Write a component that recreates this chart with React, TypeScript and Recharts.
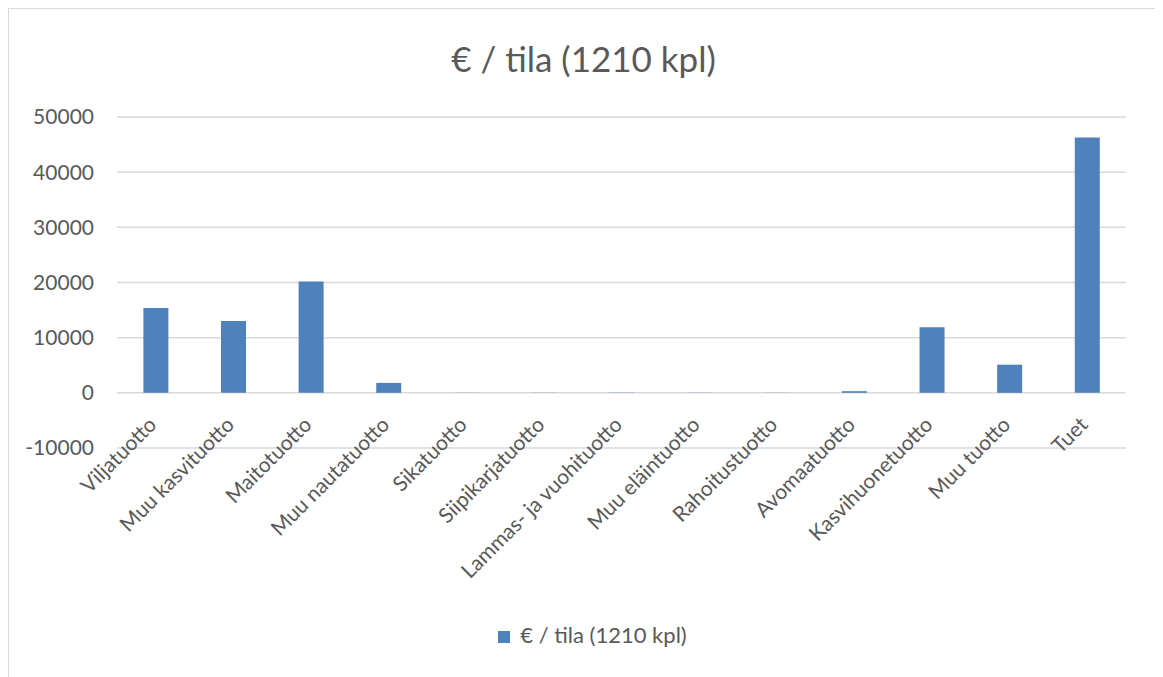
import React from 'react'
import { BarChart, Bar, XAxis, YAxis, CartesianGrid, Legend } from 'recharts'

const categories = [
  'Viljatuotto',
  'Muu kasvituotto',
  'Maitotuotto',
  'Muu nautatuotto',
  'Sikatuotto',
  'Siipikarjatuotto',
  'Lammas- ja vuohituotto',
  'Muu eläintuotto',
  'Rahoitustuotto',
  'Avomaatuotto',
  'Kasvihuonetuotto',
  'Muu tuotto',
  'Tuet',
]
const perFarm = [15400, 13000, 20200, 1800, 20, 20, 40, 30, 20, 300, 11900, 5100, 46300]
const yTicks = [-10000, 0, 10000, 20000, 30000, 40000, 50000]

const seriesName = '€ / tila (1210 kpl)'
const data = categories.map((name, i) => ({ name, value: perFarm[i] }))

const FONT = 'Lato, "Open Sans", sans-serif'
const GREY = '#595959'

function CategoryTick(props: any) {
  const { x, y, payload } = props
  // labels sit under the zero line, not the bottom of the plot
  const ax = x + 2
  const ay = y - 30
  return (
    <text
      x={ax}
      y={ay}
      transform={`rotate(-45 ${ax} ${ay})`}
      textAnchor="end"
      fill={GREY}
      fontSize={21}
      fontFamily={FONT}
    >
      {payload.value}
    </text>
  )
}

export default function App() {
  return (
    <div
      style={{
        position: 'relative',
        width: 1151,
        height: 680,
        border: '1px solid #d9d9d9',
        boxSizing: 'border-box',
        fontFamily: FONT,
        background: '#fff',
      }}
    >
      <div
        style={{
          position: 'absolute',
          top: 28,
          left: 0,
          width: '100%',
          textAlign: 'center',
          fontSize: 35,
          color: GREY,
        }}
      >
        {seriesName}
      </div>
      <BarChart
        width={1149}
        height={678}
        data={data}
        margin={{ top: 108, right: 32, left: 0, bottom: 209 }}
        barCategoryGap="34%"
      >
        <CartesianGrid vertical={false} stroke="#d9d9d9" strokeWidth={1.5} />
        <XAxis
          dataKey="name"
          axisLine={false}
          tickLine={false}
          interval={0}
          height={30}
          tick={<CategoryTick />}
        />
        <YAxis
          width={108}
          domain={[-10000, 50000]}
          ticks={yTicks}
          axisLine={false}
          tickLine={false}
          tickMargin={17}
          tick={{ fill: GREY, fontSize: 21, fontFamily: FONT }}
        />
        <Legend
          verticalAlign="middle"
          align="center"
          iconType="square"
          iconSize={12}
          wrapperStyle={{ top: 612, left: 14, width: 1149, fontSize: 22, fontFamily: FONT }}
          formatter={(v: string) => <span style={{ color: GREY, marginLeft: 6 }}>{v}</span>}
        />
        <Bar dataKey="value" name={seriesName} fill="#4f81bd" isAnimationActive={false} />
      </BarChart>
    </div>
  )
}
